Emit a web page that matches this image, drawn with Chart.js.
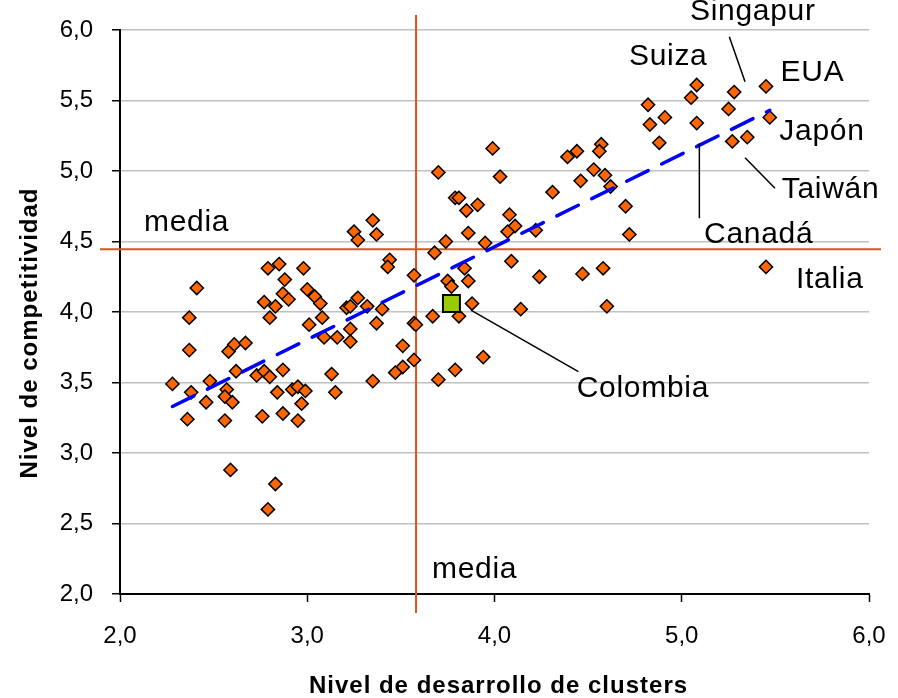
<!DOCTYPE html>
<html>
<head>
<meta charset="utf-8">
<script src="https://cdn.jsdelivr.net/npm/chart.js@4.4.1/dist/chart.umd.min.js"></script>
<style>
    html, body { margin: 0; padding: 0; background: #ffffff; }
    #wrap { width: 898px; height: 698px; position: relative; }
</style>
</head>
<body>
<div id="wrap"><canvas id="clusterChart"></canvas></div>
<script>

// =========================================
// Data
// =========================================

const countryX = [
    2.79, 2.85, 2.98, 2.41, 2.88, 2.87, 2.90, 3.00, 2.77, 2.83,
    2.80, 2.37, 3.01, 2.37, 2.58, 2.61, 2.67, 2.62, 2.28, 2.48,
    2.73, 2.77, 2.80, 2.87, 2.38, 2.57, 2.56, 2.60, 2.46, 2.84,
    2.92, 2.95, 2.99, 2.97, 2.36, 2.56, 2.76, 2.87, 2.95, 2.59,
    2.83, 2.79,
    3.35, 3.25, 3.27, 3.37, 3.74, 3.68, 3.44, 3.43, 3.57, 3.75,
    3.04, 3.07, 3.21, 3.23, 3.27, 3.32, 3.40, 3.08, 3.09, 3.16,
    3.23, 3.23, 3.37, 3.57, 3.58, 3.67, 3.51, 3.57, 3.51, 3.47,
    3.13, 3.15, 3.35, 3.70,
    3.99, 3.70, 4.03, 4.31, 3.79, 3.81, 3.91, 3.85, 4.08, 4.11,
    4.07, 4.22, 3.86, 3.95, 4.09, 3.84, 4.24, 3.86, 3.77, 3.88,
    3.81, 4.14, 3.94, 3.79,
    5.08, 5.05, 5.08, 4.82, 4.83, 4.91, 4.88, 4.57, 4.56, 4.44,
    4.39, 4.53, 4.59, 4.46, 4.62, 4.70, 4.72, 4.47, 4.58, 4.60,
    5.28, 5.45, 5.25, 5.47, 5.27, 5.35, 5.45
];

const countryY = [
    4.31, 4.34, 4.31, 4.17, 4.23, 4.13, 4.09, 4.16, 4.07, 4.04,
    3.96, 3.96, 3.91, 3.73, 3.72, 3.77, 3.78, 3.58, 3.49, 3.51,
    3.55, 3.58, 3.54, 3.59, 3.43, 3.45, 3.40, 3.36, 3.36, 3.43,
    3.45, 3.47, 3.44, 3.35, 3.24, 3.23, 3.26, 3.28, 3.23, 2.88,
    2.78, 2.60,
    4.65, 4.57, 4.51, 4.55, 4.50, 4.42, 4.37, 4.32, 4.26, 4.22,
    4.11, 4.06, 4.03, 4.04, 4.10, 4.04, 4.02, 3.96, 3.82, 3.82,
    3.88, 3.79, 3.92, 3.92, 3.91, 3.97, 3.76, 3.66, 3.61, 3.57,
    3.56, 3.43, 3.51, 3.52,
    5.16, 4.99, 4.96, 4.85, 4.81, 4.81, 4.76, 4.72, 4.69, 4.61,
    4.57, 4.58, 4.56, 4.49, 4.36, 4.31, 4.25, 4.22, 4.18, 4.06,
    3.97, 4.02, 3.68, 3.59,
    5.61, 5.52, 5.34, 5.47, 5.33, 5.38, 5.20, 5.19, 5.14, 5.14,
    5.10, 5.01, 4.97, 4.93, 4.89, 4.75, 4.55, 4.27, 4.31, 4.04,
    5.56, 5.60, 5.44, 5.38, 5.21, 5.24, 4.32
];

const colombiaX = [3.77];
const colombiaY = [4.06];

const trendX = [2.28, 5.47];
const trendY = [3.33, 5.43];

const mediaX = 3.581;
const mediaY = 4.445;

const xTickLabels = ["2,0", "3,0", "4,0", "5,0", "6,0"];
const yTickLabels = ["2,0", "2,5", "3,0", "3,5", "4,0", "4,5", "5,0", "5,5", "6,0"];

const xTitle = "Nivel de desarrollo de clusters";
const yTitle = "Nivel de competitividad";


// =========================================
// Annotation layout (in axis units)
// =========================================

const textNotes = [
    { text: "media",    x: 2.128, y: 4.574 },
    { text: "media",    x: 3.666, y: 2.113 },
    { text: "Singapur", x: 5.044, y: 6.071 },
    { text: "Suiza",    x: 4.718, y: 5.752 },
    { text: "EUA",      x: 5.528, y: 5.638 },
    { text: "Japón",    x: 5.521, y: 5.220 },
    { text: "Taiwán",   x: 5.534, y: 4.806 },
    { text: "Canadá",   x: 5.119, y: 4.491 },
    { text: "Italia",   x: 5.610, y: 4.168 },
    { text: "Colombia", x: 4.439, y: 3.395 }
];

const leaderLines = [
    [5.254, 5.952, 5.338, 5.633],
    [5.338, 5.094, 5.498, 4.877],
    [5.094, 5.196, 5.094, 4.665],
    [3.874, 4.014, 4.448, 3.577]
];


// =========================================
// Overlay plugin: media lines, labels, titles
// =========================================

const overlayPlugin = {

    id: "overlays",

    beforeDatasetsDraw(chart) {
        const ctx = chart.ctx;
        const area = chart.chartArea;
        const mx = chart.scales.x.getPixelForValue(mediaX);
        const my = chart.scales.y.getPixelForValue(mediaY);

        ctx.save();
        ctx.strokeStyle = "#DF531E";
        ctx.lineWidth = 2;
        ctx.beginPath();
        ctx.moveTo(mx, area.top - 15);
        ctx.lineTo(mx, area.bottom + 19);
        ctx.moveTo(area.left - 20, my);
        ctx.lineTo(area.right + 12, my);
        ctx.stroke();
        ctx.restore();
    },

    afterDraw(chart) {
        const ctx = chart.ctx;
        const xs = chart.scales.x;
        const ys = chart.scales.y;
        const area = chart.chartArea;

        ctx.save();

        // leader lines
        ctx.strokeStyle = "#000000";
        ctx.lineWidth = 1.5;
        leaderLines.forEach(l => {
            ctx.beginPath();
            ctx.moveTo(xs.getPixelForValue(l[0]), ys.getPixelForValue(l[1]));
            ctx.lineTo(xs.getPixelForValue(l[2]), ys.getPixelForValue(l[3]));
            ctx.stroke();
        });

        // country and media labels
        ctx.fillStyle = "#000000";
        ctx.font = "30px 'Liberation Sans', Arial, sans-serif";
        ctx.letterSpacing = "0.7px";
        ctx.textAlign = "left";
        ctx.textBaseline = "alphabetic";
        textNotes.forEach(n => {
            ctx.fillText(n.text, xs.getPixelForValue(n.x), ys.getPixelForValue(n.y));
        });

        // axis titles
        ctx.font = "bold 24px 'Liberation Sans', Arial, sans-serif";
        ctx.letterSpacing = "1px";
        ctx.textAlign = "center";
        ctx.textBaseline = "middle";
        ctx.fillText(xTitle, (area.left + area.right) / 2 + 4, 686);

        ctx.translate(30, (area.top + area.bottom) / 2 + 21);
        ctx.rotate(-Math.PI / 2);
        ctx.fillText(yTitle, 0, 0);

        ctx.restore();
    }
};


// =========================================
// Scatter Chart
// =========================================

const clusterCanvas =
    document.getElementById("clusterChart");

new Chart(clusterCanvas, {

    type: "scatter",

    data: {

        datasets: [

            {
                type: "line",
                data: trendX.map((x, i) => ({ x: x, y: trendY[i] })),
                borderColor: "#0000FF",
                borderWidth: 3.5,
                borderDash: [24, 15],
                borderCapStyle: "round",
                pointRadius: 0,
                showLine: true,
                fill: false,
                order: 0
            },

            {
                data: colombiaX.map((x, i) => ({ x: x, y: colombiaY[i] })),
                pointStyle: "rect",
                pointRadius: 12,
                backgroundColor: "#99CC00",
                borderColor: "#000000",
                borderWidth: 2,
                order: 1
            },

            {
                data: countryX.map((x, i) => ({ x: x, y: countryY[i] })),
                pointStyle: "rectRot",
                pointRadius: 6.6,
                backgroundColor: "#FF6600",
                borderColor: "#000000",
                borderWidth: 1.5,
                order: 2
            }
        ]
    },

    options: {

        responsive: true,
        maintainAspectRatio: false,
        animation: false,
        events: [],

        layout: {
            padding: { top: 30, right: 29, left: 0, bottom: 0 }
        },

        plugins: {
            legend: { display: false },
            tooltip: { enabled: false }
        },

        scales: {

            x: {
                type: "linear",
                min: 2,
                max: 6,
                afterFit: s => {
                    s.height = 104;
                    s.paddingLeft = 0;
                    s.paddingRight = 0;
                },
                afterBuildTicks: s => {
                    s.ticks = xTickLabels.map((t, i) => ({ value: 2 + i }));
                },
                ticks: {
                    color: "#000000",
                    font: { family: "'Liberation Sans', Arial, sans-serif", size: 24 },
                    padding: 20,
                    callback: (v, i) => xTickLabels[i]
                },
                grid: {
                    drawOnChartArea: false,
                    tickLength: 8,
                    tickColor: "#000000",
                    tickWidth: 1.5
                },
                border: { color: "#000000", width: 2 }
            },

            y: {
                type: "linear",
                min: 2,
                max: 6,
                afterFit: s => {
                    s.width = 120;
                    s.paddingTop = 0;
                    s.paddingBottom = 0;
                },
                afterBuildTicks: s => {
                    s.ticks = yTickLabels.map((t, i) => ({ value: 2 + i * 0.5 }));
                },
                ticks: {
                    color: "#000000",
                    font: { family: "'Liberation Sans', Arial, sans-serif", size: 24 },
                    padding: 19,
                    callback: (v, i) => yTickLabels[i]
                },
                grid: {
                    color: "#C0C0C0",
                    lineWidth: 1.5,
                    tickLength: 8,
                    tickColor: "#000000",
                    tickWidth: 1.5
                },
                border: { color: "#000000", width: 2 }
            }
        }
    },

    plugins: [overlayPlugin]
});

</script>
</body>
</html>
